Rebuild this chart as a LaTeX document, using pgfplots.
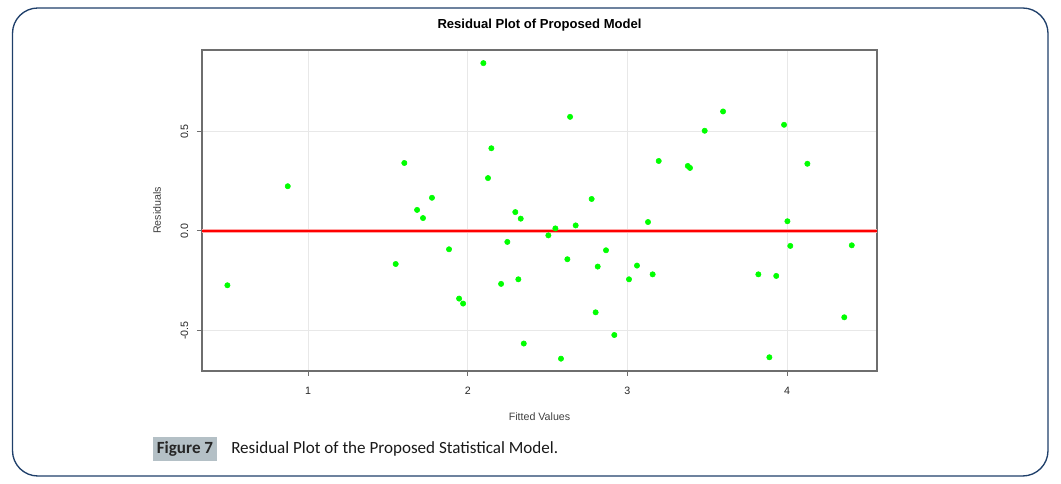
\documentclass[border=0pt]{standalone}
\usepackage{pgfplots}
\pgfplotsset{compat=1.18}
\usepackage{fontspec}
\setmainfont{Liberation Sans}
\newfontfamily\capfont{Carlito}
\definecolor{framec}{HTML}{1F3F6A}
\definecolor{capbox}{HTML}{B4C0C6}
\definecolor{ptgreen}{HTML}{00FF00}
\definecolor{axisgray}{HTML}{6E6E6E}
\definecolor{gridgray}{HTML}{E8E8E8}
\begin{document}
\begin{tikzpicture}[x=0.75pt,y=0.75pt]
\useasboundingbox (0,0) rectangle (1061,484);
\draw[framec, line width=1pt, rounded corners=19pt] (12.5,8) rectangle (1048,476);
\begin{axis}[
  at={(151.5pt,84.75pt)}, anchor=south west, scale only axis,
  width=506.25pt, height=240.75pt,
  xmin=0.336, xmax=4.563, ymin=-0.704, ymax=0.91,
  xtick={1,2,3,4}, xticklabels={1,2,3,4},
  ytick={-0.5,0,0.5}, yticklabels={-0.5,0.0,0.5},
  xtick pos=lower, ytick pos=left,
  tick align=outside, major tick length=3.75pt,
  tick style={axisgray, line width=0.75pt},
  axis line style={axisgray, line width=1.1pt},
  grid=major, major grid style={gridgray, line width=0.75pt},
  xticklabel style={font=\fontsize{8}{9}\selectfont, text=black!85, yshift=-5pt},
  yticklabel style={font=\fontsize{8}{9}\selectfont, text=black!85, xshift=-3pt, rotate=90, anchor=south},
  title={\bfseries Residual Plot of Proposed Model},
  every axis title/.style={font=\fontsize{9.8}{11}\selectfont, at={(axis description cs:0.5,1.078)}, anchor=center},
  xlabel={Fitted Values},
  ylabel={Residuals},
  every axis x label/.style={at={(axis description cs:0.5,-0.143)}, anchor=center, font=\fontsize{8}{9}\selectfont, text=black!75},
  every axis y label/.style={at={(axis description cs:-0.0667,0.5)}, anchor=center, rotate=90, font=\fontsize{8}{9}\selectfont, text=black!75},
]
\addplot[red!35, line width=3.2pt, forget plot] coordinates {(0.336,0) (4.563,0)};
\addplot[red, line width=1pt, forget plot] coordinates {(0.336,0) (4.563,0)};
\addplot[only marks, mark=*, mark size=2pt, draw=ptgreen, fill=ptgreen] coordinates {
(0.495,-0.273) (0.873,0.225) (1.603,0.342) (1.549,-0.166) (1.683,0.106)
(1.720,0.065) (1.776,0.167) (1.883,-0.092) (1.946,-0.340) (1.971,-0.365)
(2.098,0.844) (2.127,0.266) (2.148,0.416) (2.209,-0.266) (2.248,-0.055)
(2.298,0.095) (2.317,-0.243) (2.332,0.062) (2.351,-0.566) (2.505,-0.022)
(2.549,0.013) (2.584,-0.642) (2.624,-0.142) (2.641,0.574) (2.676,0.028)
(2.776,0.161) (2.801,-0.409) (2.814,-0.179) (2.866,-0.097) (2.918,-0.523)
(3.010,-0.243) (3.060,-0.174) (3.129,0.045) (3.158,-0.218) (3.196,0.352)
(3.378,0.327) (3.392,0.317) (3.484,0.504) (3.599,0.601) (3.820,-0.218)
(3.889,-0.635) (3.932,-0.226) (3.981,0.534) (4.002,0.049) (4.020,-0.075)
(4.127,0.338) (4.358,-0.434) (4.405,-0.072)
};
\end{axis}
\fill[capbox] (153,23) rectangle (217,47);
\node[font=\capfont\bfseries\fontsize{12.8}{14}\selectfont, text=black!85] at (185,35) {Figure 7};
\node[font=\capfont\fontsize{12.8}{14}\selectfont, text=black!90, anchor=west, inner sep=0pt] at (231,35) {Residual Plot of the Proposed Statistical Model.};
\end{tikzpicture}
\end{document}
